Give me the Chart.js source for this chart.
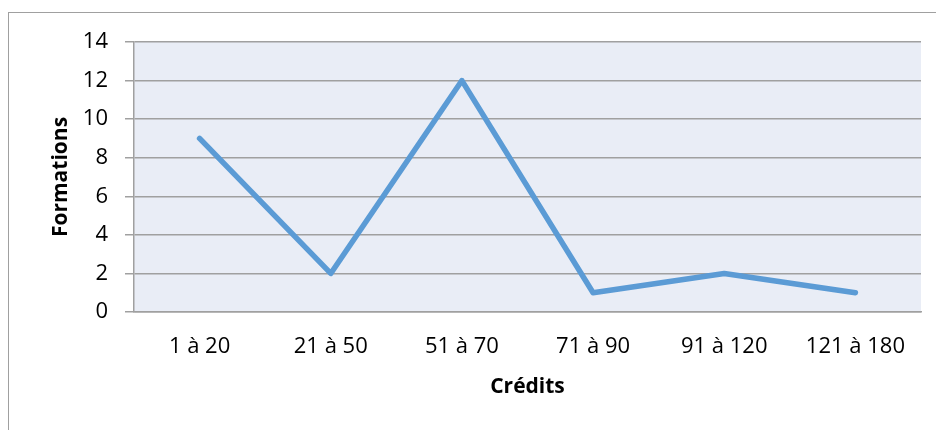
<!DOCTYPE html>
<html>
<head>
<meta charset="utf-8">
<script src="https://cdn.jsdelivr.net/npm/chart.js@4/dist/chart.umd.min.js"></script>
<style>
    html, body { margin: 0; padding: 0; background: #fff; overflow: hidden; }
    #wrap { position: relative; width: 936px; height: 430px; }
    #frame { position: absolute; left: 8px; top: 12px; width: 1000px; height: 500px; border: 1.5px solid #a0a0a0; }
    #salesChart { position: absolute; left: 0; top: 0; }
</style>
</head>
<body>
<div id="wrap">
    <div id="frame"></div>
    <canvas id="salesChart" width="936" height="430"></canvas>
</div>
<script>
const categories = ['1 à 20', '21 à 50', '51 à 70', '71 à 90', '91 à 120', '121 à 180'];
const formations = [9, 2, 12, 1, 2, 1];
const yTicks = [0, 2, 4, 6, 8, 10, 12, 14];

const plotBackground = {
    id: 'plotBackground',
    beforeDraw(chart) {
        const { ctx, chartArea: a } = chart;
        ctx.save();
        ctx.fillStyle = '#e9edf6';
        ctx.fillRect(a.left, a.top, a.right - a.left, a.bottom - a.top);
        ctx.restore();
    }
};

const font = { family: '"Open Sans", sans-serif', size: 22 };
const titleFont = { family: '"Open Sans", sans-serif', size: 21, weight: 'bold' };

new Chart(document.getElementById('salesChart').getContext('2d'), {
    type: 'line',
    data: {
        labels: categories,
        datasets: [{
            data: formations,
            borderColor: '#5b9bd5',
            borderWidth: 5.5,
            borderCapStyle: 'round',
            borderJoinStyle: 'round',
            pointRadius: 0,
            pointHoverRadius: 0,
            tension: 0,
            fill: false
        }]
    },
    plugins: [plotBackground],
    options: {
        responsive: false,
        animation: false,
        events: [],
        layout: { padding: { top: 42, right: 15, left: 0, bottom: 18 } },
        plugins: { legend: { display: false }, tooltip: { enabled: false } },
        scales: {
            x: {
                offset: true,
                grid: { display: false, drawTicks: false },
                border: { display: true, color: '#a0a0a0', width: 1.5 },
                ticks: { color: '#000', font: font, padding: 22, maxRotation: 0, autoSkip: false },
                title: { display: true, text: 'Crédits', color: '#000', font: titleFont, padding: { top: 0, bottom: 12 } },
                afterFit: s => { s.height = 100; }
            },
            y: {
                min: 0,
                max: 14,
                afterBuildTicks: s => { s.ticks = yTicks.map(v => ({ value: v })); },
                grid: { color: '#a0a0a0', lineWidth: 1.5, tickLength: 9, drawTicks: true },
                border: { display: true, color: '#a0a0a0', width: 1.5 },
                ticks: { color: '#000', font: font, padding: 17 },
                title: { display: true, text: 'Formations', color: '#000', font: titleFont, padding: { top: 48, bottom: 0 } },
                afterFit: s => { s.width = 134; }
            }
        }
    }
});
</script>
</body>
</html>
